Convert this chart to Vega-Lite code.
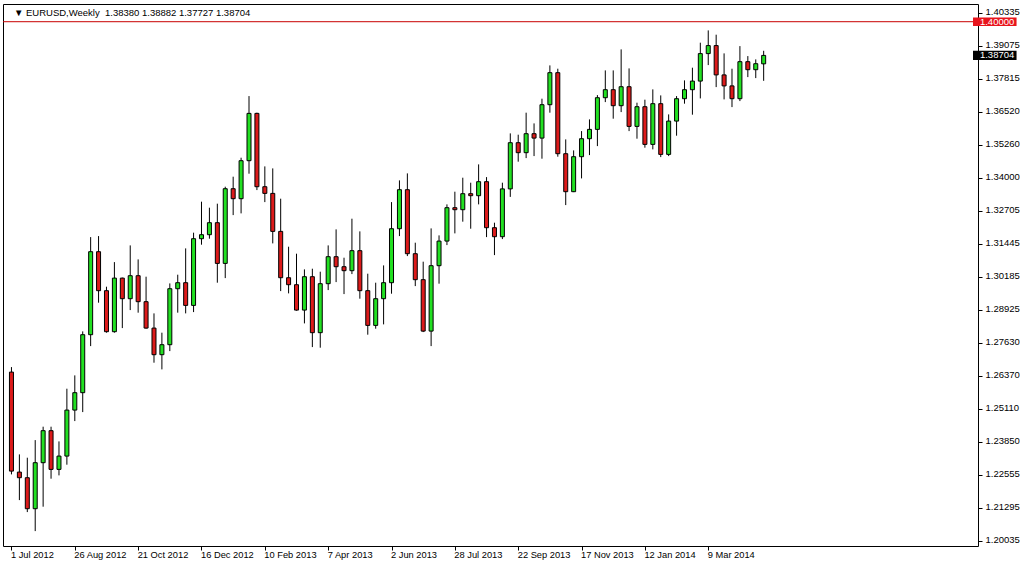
{
  "$schema": "https://vega.github.io/schema/vega-lite/v6.json",
  "width": 975,
  "height": 542,
  "autosize": {"type": "none"},
  "padding": {"left": 3, "top": 4, "right": 45, "bottom": 18},
  "background": "white",
  "config": {
    "view": {"stroke": "black", "strokeWidth": 1},
    "font": "Liberation Sans"
  },
  "data": {"values": [
    {"d":"2012-07-01","o":1.26528,"h":1.26720,"l":1.22594,"c":1.22721},
    {"d":"2012-07-08","o":1.22683,"h":1.23363,"l":1.21606,"c":1.22467},
    {"d":"2012-07-15","o":1.22467,"h":1.23236,"l":1.21145,"c":1.21275},
    {"d":"2012-07-22","o":1.21275,"h":1.23913,"l":1.20414,"c":1.23044},
    {"d":"2012-07-29","o":1.23044,"h":1.24428,"l":1.21352,"c":1.24275},
    {"d":"2012-08-05","o":1.24275,"h":1.24428,"l":1.22429,"c":1.22787},
    {"d":"2012-08-12","o":1.22787,"h":1.23863,"l":1.22556,"c":1.23298},
    {"d":"2012-08-19","o":1.23298,"h":1.25889,"l":1.22967,"c":1.25067},
    {"d":"2012-08-26","o":1.25067,"h":1.26401,"l":1.24644,"c":1.25736},
    {"d":"2012-09-02","o":1.25736,"h":1.28093,"l":1.24990,"c":1.27966},
    {"d":"2012-09-09","o":1.27966,"h":1.31718,"l":1.27527,"c":1.31157},
    {"d":"2012-09-16","o":1.31157,"h":1.31757,"l":1.29196,"c":1.29658},
    {"d":"2012-09-23","o":1.29658,"h":1.29811,"l":1.28043,"c":1.28081},
    {"d":"2012-09-30","o":1.28081,"h":1.30757,"l":1.28043,"c":1.30142},
    {"d":"2012-10-07","o":1.30142,"h":1.30160,"l":1.28220,"c":1.29350},
    {"d":"2012-10-14","o":1.29350,"h":1.31399,"l":1.28912,"c":1.30234},
    {"d":"2012-10-21","o":1.30234,"h":1.30861,"l":1.28812,"c":1.29235},
    {"d":"2012-10-28","o":1.29235,"h":1.30196,"l":1.28196,"c":1.28220},
    {"d":"2012-11-04","o":1.28220,"h":1.28785,"l":1.26889,"c":1.27197},
    {"d":"2012-11-11","o":1.27197,"h":1.28043,"l":1.26632,"c":1.27581},
    {"d":"2012-11-18","o":1.27581,"h":1.29938,"l":1.27335,"c":1.29734},
    {"d":"2012-11-25","o":1.29734,"h":1.30273,"l":1.28812,"c":1.29965},
    {"d":"2012-12-02","o":1.29965,"h":1.31284,"l":1.28785,"c":1.29092},
    {"d":"2012-12-09","o":1.29092,"h":1.31888,"l":1.28835,"c":1.31657},
    {"d":"2012-12-16","o":1.31657,"h":1.33080,"l":1.31426,"c":1.31811},
    {"d":"2012-12-23","o":1.31811,"h":1.32849,"l":1.31657,"c":1.32272},
    {"d":"2012-12-30","o":1.32272,"h":1.33003,"l":1.29965,"c":1.30707},
    {"d":"2013-01-06","o":1.30707,"h":1.33656,"l":1.30142,"c":1.33579},
    {"d":"2013-01-13","o":1.33579,"h":1.34041,"l":1.32564,"c":1.33195},
    {"d":"2013-01-20","o":1.33195,"h":1.34771,"l":1.32630,"c":1.34656},
    {"d":"2013-01-27","o":1.34656,"h":1.37140,"l":1.34156,"c":1.36475},
    {"d":"2013-02-03","o":1.36475,"h":1.36502,"l":1.33526,"c":1.33656},
    {"d":"2013-02-10","o":1.33656,"h":1.34437,"l":1.33064,"c":1.33399},
    {"d":"2013-02-17","o":1.33399,"h":1.34360,"l":1.31476,"c":1.31938},
    {"d":"2013-02-24","o":1.31938,"h":1.33195,"l":1.29642,"c":1.30157},
    {"d":"2013-03-03","o":1.30157,"h":1.31349,"l":1.29554,"c":1.29888},
    {"d":"2013-03-10","o":1.29888,"h":1.31080,"l":1.28889,"c":1.28912},
    {"d":"2013-03-17","o":1.28912,"h":1.30477,"l":1.28400,"c":1.30196},
    {"d":"2013-03-24","o":1.30196,"h":1.30503,"l":1.27489,"c":1.28043},
    {"d":"2013-03-31","o":1.28043,"h":1.30388,"l":1.27466,"c":1.29927},
    {"d":"2013-04-07","o":1.29927,"h":1.31399,"l":1.29681,"c":1.30965},
    {"d":"2013-04-14","o":1.30965,"h":1.32015,"l":1.29988,"c":1.30580},
    {"d":"2013-04-21","o":1.30580,"h":1.30926,"l":1.29527,"c":1.30427},
    {"d":"2013-04-28","o":1.30427,"h":1.32426,"l":1.30296,"c":1.31196},
    {"d":"2013-05-05","o":1.31196,"h":1.31938,"l":1.29350,"c":1.29658},
    {"d":"2013-05-12","o":1.29658,"h":1.30311,"l":1.27966,"c":1.28323},
    {"d":"2013-05-19","o":1.28323,"h":1.29965,"l":1.28196,"c":1.29350},
    {"d":"2013-05-26","o":1.29350,"h":1.30630,"l":1.28362,"c":1.29965},
    {"d":"2013-06-02","o":1.29965,"h":1.33064,"l":1.29542,"c":1.32041},
    {"d":"2013-06-09","o":1.32041,"h":1.33899,"l":1.31757,"c":1.33541},
    {"d":"2013-06-16","o":1.33541,"h":1.34168,"l":1.30988,"c":1.31080},
    {"d":"2013-06-23","o":1.31080,"h":1.31503,"l":1.29834,"c":1.30081},
    {"d":"2013-06-30","o":1.30081,"h":1.30773,"l":1.28066,"c":1.28104},
    {"d":"2013-07-07","o":1.28104,"h":1.32053,"l":1.27527,"c":1.30619},
    {"d":"2013-07-14","o":1.30619,"h":1.31784,"l":1.29927,"c":1.31565},
    {"d":"2013-07-21","o":1.31565,"h":1.32976,"l":1.31411,"c":1.32849},
    {"d":"2013-07-28","o":1.32849,"h":1.33464,"l":1.31861,"c":1.32772},
    {"d":"2013-08-04","o":1.32772,"h":1.34002,"l":1.32311,"c":1.33387},
    {"d":"2013-08-11","o":1.33387,"h":1.33810,"l":1.32041,"c":1.33310},
    {"d":"2013-08-18","o":1.33310,"h":1.34514,"l":1.32976,"c":1.33849},
    {"d":"2013-08-25","o":1.33849,"h":1.34025,"l":1.31718,"c":1.32080},
    {"d":"2013-09-01","o":1.32080,"h":1.32272,"l":1.31026,"c":1.31734},
    {"d":"2013-09-08","o":1.31734,"h":1.33810,"l":1.31642,"c":1.33572},
    {"d":"2013-09-15","o":1.33572,"h":1.35706,"l":1.33264,"c":1.35348},
    {"d":"2013-09-22","o":1.35348,"h":1.35656,"l":1.34618,"c":1.34964},
    {"d":"2013-09-29","o":1.34964,"h":1.36502,"l":1.34756,"c":1.35694},
    {"d":"2013-10-06","o":1.35694,"h":1.36090,"l":1.34833,"c":1.35525},
    {"d":"2013-10-13","o":1.35525,"h":1.37040,"l":1.34733,"c":1.36809},
    {"d":"2013-10-20","o":1.36809,"h":1.38320,"l":1.36502,"c":1.38040},
    {"d":"2013-10-27","o":1.38040,"h":1.38193,"l":1.34810,"c":1.34925},
    {"d":"2013-11-03","o":1.34925,"h":1.35475,"l":1.32949,"c":1.33464},
    {"d":"2013-11-10","o":1.33464,"h":1.35052,"l":1.33449,"c":1.34810},
    {"d":"2013-11-17","o":1.34810,"h":1.35794,"l":1.33975,"c":1.35502},
    {"d":"2013-11-24","o":1.35502,"h":1.36244,"l":1.34871,"c":1.35860},
    {"d":"2013-12-01","o":1.35860,"h":1.37178,"l":1.35217,"c":1.37078},
    {"d":"2013-12-08","o":1.37078,"h":1.38128,"l":1.36909,"c":1.37386},
    {"d":"2013-12-15","o":1.37386,"h":1.38128,"l":1.36271,"c":1.36771},
    {"d":"2013-12-22","o":1.36771,"h":1.38936,"l":1.36525,"c":1.37501},
    {"d":"2013-12-29","o":1.37501,"h":1.38205,"l":1.35794,"c":1.35975},
    {"d":"2014-01-05","o":1.35975,"h":1.36886,"l":1.35502,"c":1.36732},
    {"d":"2014-01-12","o":1.36732,"h":1.37002,"l":1.35156,"c":1.35283},
    {"d":"2014-01-19","o":1.35283,"h":1.37398,"l":1.35091,"c":1.36848},
    {"d":"2014-01-26","o":1.36848,"h":1.37167,"l":1.34794,"c":1.34898},
    {"d":"2014-02-02","o":1.34898,"h":1.36436,"l":1.34833,"c":1.36179},
    {"d":"2014-02-09","o":1.36179,"h":1.37140,"l":1.35617,"c":1.37040},
    {"d":"2014-02-16","o":1.37040,"h":1.37744,"l":1.36848,"c":1.37386},
    {"d":"2014-02-23","o":1.37386,"h":1.38232,"l":1.36425,"c":1.37717},
    {"d":"2014-03-02","o":1.37717,"h":1.39193,"l":1.37051,"c":1.38774},
    {"d":"2014-03-09","o":1.38774,"h":1.39666,"l":1.38332,"c":1.39082},
    {"d":"2014-03-16","o":1.39082,"h":1.39501,"l":1.37486,"c":1.37955},
    {"d":"2014-03-23","o":1.37955,"h":1.38782,"l":1.37013,"c":1.37532},
    {"d":"2014-03-30","o":1.37532,"h":1.38193,"l":1.36717,"c":1.37040},
    {"d":"2014-04-06","o":1.37040,"h":1.39062,"l":1.36948,"c":1.38463},
    {"d":"2014-04-13","o":1.38463,"h":1.38678,"l":1.37870,"c":1.38155},
    {"d":"2014-04-20","o":1.38155,"h":1.38551,"l":1.37832,"c":1.38386},
    {"d":"2014-04-27","o":1.38380,"h":1.38882,"l":1.37727,"c":1.38704}
  ]},
  "layer": [
    {
      "mark": {"type": "rule", "color": "black", "strokeWidth": 1},
      "encoding": {
        "x": {
          "field": "d", "type": "temporal",
          "scale": {"type": "utc", "nice": false, "domain": [
            {"year": 2012, "month": 6, "date": 27, "hours": 22, "minutes": 30, "utc": true},
            {"year": 2014, "month": 10, "date": 29, "hours": 1, "minutes": 30, "utc": true}
          ]},
          "axis": {
            "title": null, "grid": false, "domain": false,
            "tickCount": 30,
            "values": [
              {"year": 2012, "month": 7, "date": 1, "utc": true},
              {"year": 2012, "month": 8, "date": 26, "utc": true},
              {"year": 2012, "month": 10, "date": 21, "utc": true},
              {"year": 2012, "month": 12, "date": 16, "utc": true},
              {"year": 2013, "month": 2, "date": 10, "utc": true},
              {"year": 2013, "month": 4, "date": 7, "utc": true},
              {"year": 2013, "month": 6, "date": 2, "utc": true},
              {"year": 2013, "month": 7, "date": 28, "utc": true},
              {"year": 2013, "month": 9, "date": 22, "utc": true},
              {"year": 2013, "month": 11, "date": 17, "utc": true},
              {"year": 2014, "month": 1, "date": 12, "utc": true},
              {"year": 2014, "month": 3, "date": 9, "utc": true}
            ],
            "labelExpr": "utcFormat(datum.value, '%-d %b %Y')",
            "tickSize": 4, "tickColor": "black",
            "labelPadding": 0, "labelAlign": "left", "labelBaseline": "top",
            "labelOffset": -1,
            "labelFont": "Liberation Sans", "labelFontSize": 9.3, "labelColor": "black",
            "labelFlush": false, "labelOverlap": false
          }
        },
        "y": {
          "field": "l", "type": "quantitative",
          "scale": {"domain": [1.19841, 1.40681], "zero": false, "nice": false},
          "axis": {
            "orient": "right", "title": null, "grid": false, "domain": false,
            "tickCount": 40,
            "values": [1.20035, 1.21295, 1.22555, 1.2385, 1.2511, 1.2637, 1.2763, 1.28925, 1.30185, 1.31445, 1.32705, 1.34, 1.3526, 1.3652, 1.37815, 1.39075, 1.40335],
            "format": ".5f",
            "tickSize": 4, "tickColor": "black",
            "labelPadding": 3, "labelAlign": "left", "labelBaseline": "middle",
            "labelOffset": -1.5,
            "labelFont": "Liberation Sans", "labelFontSize": 9.5, "labelColor": "black",
            "labelFlush": false, "labelOverlap": false
          }
        },
        "y2": {"field": "h"}
      }
    },
    {
      "mark": {"type": "bar", "size": 4, "stroke": "black", "strokeWidth": 1},
      "encoding": {
        "x": {"field": "d", "type": "temporal"},
        "y": {"field": "o", "type": "quantitative"},
        "y2": {"field": "c"},
        "color": {
          "condition": {"test": "datum.c >= datum.o", "value": "#22E022"},
          "value": "#DC1A1A"
        }
      }
    },
    {
      "data": {"values": [{}]},
      "mark": {"type": "rule", "color": "#C80000", "strokeWidth": 1},
      "encoding": {"y": {"datum": 1.4, "type": "quantitative"}}
    },
    {
      "data": {"values": [{}]},
      "mark": {"type": "rect", "color": "#E8141C"},
      "encoding": {
        "x": {"datum": {"year": 2014, "month": 10, "date": 29, "hours": 1, "minutes": 30, "utc": true}, "type": "temporal"},
        "x2": {"datum": {"year": 2014, "month": 12, "date": 6, "hours": 13, "minutes": 30, "utc": true}},
        "y": {"datum": 1.39838, "type": "quantitative"},
        "y2": {"datum": 1.40158}
      }
    },
    {
      "data": {"values": [{}]},
      "mark": {"type": "text", "color": "white", "align": "left", "baseline": "middle", "font": "Liberation Sans", "fontSize": 9.5},
      "encoding": {
        "x": {"datum": {"year": 2014, "month": 11, "date": 4, "hours": 4, "minutes": 30, "utc": true}, "type": "temporal"},
        "y": {"datum": 1.39985, "type": "quantitative"},
        "text": {"value": "1.40000"}
      }
    },
    {
      "data": {"values": [{}]},
      "mark": {"type": "rect", "color": "black"},
      "encoding": {
        "x": {"datum": {"year": 2014, "month": 10, "date": 29, "hours": 1, "minutes": 30, "utc": true}, "type": "temporal"},
        "x2": {"datum": {"year": 2014, "month": 12, "date": 6, "hours": 13, "minutes": 30, "utc": true}},
        "y": {"datum": 1.38529, "type": "quantitative"},
        "y2": {"datum": 1.38879}
      }
    },
    {
      "data": {"values": [{}]},
      "mark": {"type": "text", "color": "white", "align": "left", "baseline": "middle", "font": "Liberation Sans", "fontSize": 9.5},
      "encoding": {
        "x": {"datum": {"year": 2014, "month": 11, "date": 4, "hours": 4, "minutes": 30, "utc": true}, "type": "temporal"},
        "y": {"datum": 1.38704, "type": "quantitative"},
        "text": {"value": "1.38704"}
      }
    },
    {
      "data": {"values": [{}]},
      "mark": {"type": "text", "color": "black", "align": "left", "baseline": "middle", "font": "Liberation Sans", "fontSize": 9.5},
      "encoding": {
        "x": {"datum": {"year": 2012, "month": 7, "date": 3, "hours": 4, "minutes": 30, "utc": true}, "type": "temporal"},
        "y": {"datum": 1.40335, "type": "quantitative"},
        "text": {"value": "▼ EURUSD,Weekly\u00a0\u00a01.38380 1.38882 1.37727 1.38704"}
      }
    }
  ]
}
